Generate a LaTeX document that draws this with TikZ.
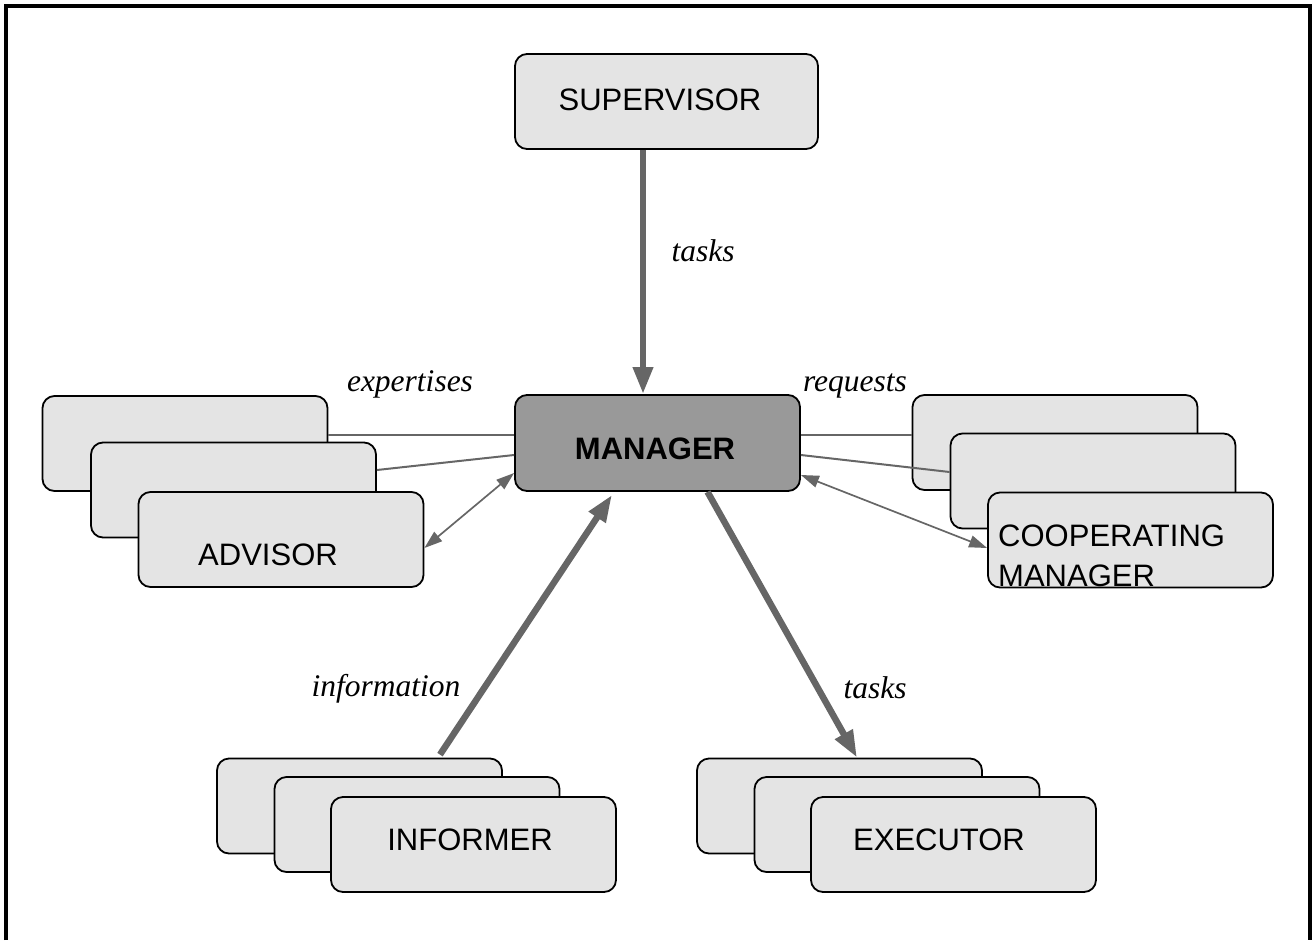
\documentclass[tikz,border=0pt]{standalone}
\usepackage{fontspec}
\setmainfont{Liberation Serif}
\setsansfont{Liberation Sans}
\usetikzlibrary{arrows.meta}
\definecolor{boxgray}{HTML}{E4E4E4}
\definecolor{mangray}{HTML}{999999}
\definecolor{arrgray}{HTML}{666666}
\tikzset{
  rolebox/.style={draw=black, line width=1.8pt, fill=boxgray, rounded corners=12pt,
    inner sep=0pt, minimum width=285pt, minimum height=95pt},
  manbox/.style={rolebox, fill=mangray, minimum height=96pt},
  lbl/.style={font=\sffamily\fontsize{31}{34}\selectfont, inner sep=0pt},
  itl/.style={font=\itshape\fontsize{31.5}{34}\selectfont, inner sep=0pt},
  bigarrow/.style={draw=arrgray, line width=6.5pt, -{Triangle[length=27pt,width=19pt]}},
  thinline/.style={draw=arrgray, line width=2pt},
  duoarrow/.style={draw=arrgray, line width=1.7pt, {Triangle[length=18pt,width=12pt]}-{Triangle[length=18pt,width=12pt]}}
}
\begin{document}
\begin{tikzpicture}[x=1pt,y=-1pt]
\useasboundingbox (0,0) rectangle (1314,940);
% frame
\draw[line width=3.4pt] (6,940) -- (6,6) -- (1310,6) -- (1310,940);

% boxes
\node[rolebox, minimum width=303pt] (sup) at (666.5,101.5) {};
\node[manbox] (man) at (657.5,443) {};

\node[rolebox] (a1) at (185,443.5) {};
\node[rolebox] (a2) at (233.5,490) {};
\node[rolebox] (a3) at (281,539.5) {};

\node[rolebox] (c1) at (1055,442.5) {};
\node[rolebox] (c2) at (1093,481) {};
\node[rolebox] (c3) at (1130.5,540) {};

\node[rolebox] (i1) at (359.5,806) {};
\node[rolebox] (i2) at (417,824.5) {};
\node[rolebox] (i3) at (473.5,844.5) {};

\node[rolebox] (e1) at (839.5,806) {};
\node[rolebox] (e2) at (897,824.5) {};
\node[rolebox] (e3) at (953.5,844.5) {};

% box texts
\node[lbl, anchor=base] (tsup) at (660,110) {SUPERVISOR};
\node[lbl, anchor=base, font=\sffamily\bfseries\fontsize{31}{34}\selectfont] (tman) at (655,459) {MANAGER};
\node[lbl, anchor=base] (tadv) at (268,565) {ADVISOR};
\node[lbl, anchor=base west] (tcoop1) at (998,546) {COOPERATING};
\node[lbl, anchor=base west] (tcoop2) at (998,586) {MANAGER};
\node[lbl, anchor=base] (tinf) at (470,850) {INFORMER};
\node[lbl, anchor=base] (texe) at (939,850) {EXECUTOR};

% connectors
\draw[bigarrow] ([xshift=-23.5pt]sup.south) -- ([xshift=-14.5pt]man.north);
\draw[bigarrow] ([xshift=80.5pt,yshift=3pt]i1.north) -- ([xshift=-45.5pt,yshift=-3pt]man.south);
\draw[bigarrow] ([xshift=50pt]man.south) -- ([xshift=17.5pt]e1.north);

\draw[thinline, line width=2.7pt] ([yshift=8.5pt]a1.east) -- ([yshift=8pt]man.west);
\draw[thinline] ([yshift=20pt]a2.east) -- ([yshift=-12pt]man.west);
\draw[duoarrow] ([yshift=-8.5pt]a3.east) -- ([yshift=-30pt]man.west);

\draw[thinline, line width=2.7pt] ([yshift=8pt]man.east) -- ([yshift=7.5pt]c1.west);
\draw[thinline] ([yshift=-12pt]man.east) -- ([yshift=9pt]c2.west);
\draw[duoarrow] ([yshift=-32pt]man.east) -- ([yshift=-8pt]c3.west);

% connector labels
\node[itl, anchor=base] (ltask1) at (703,261) {tasks};
\node[itl, anchor=base] (lexp) at (410,391) {expertises};
\node[itl, anchor=base] (lreq) at (855,391) {requests};
\node[itl, anchor=base] (linf) at (386,696) {information};
\node[itl, anchor=base] (ltask2) at (875,698) {tasks};
\end{tikzpicture}
\end{document}
